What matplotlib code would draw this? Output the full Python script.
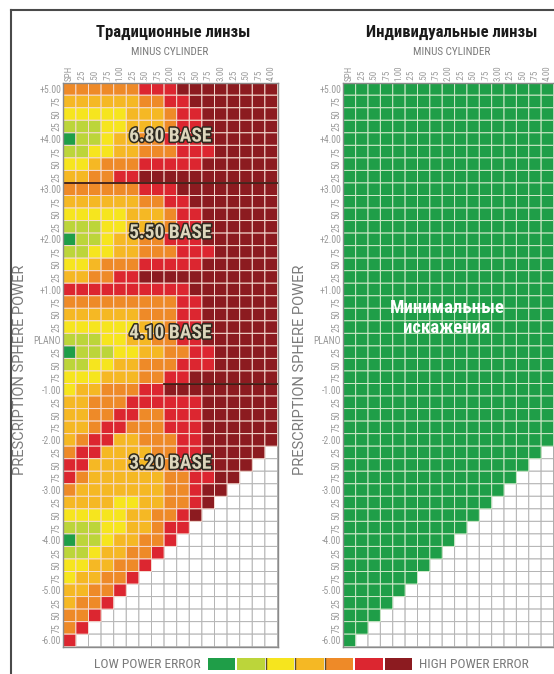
import numpy as np
import matplotlib.pyplot as plt
from matplotlib.colors import ListedColormap
from matplotlib.lines import Line2D
import matplotlib.patheffects as pe

plt.rcParams['font.family'] = ['Roboto Condensed', 'DejaVu Sans']

# error level per cell: 0 = green (low) ... 6 = dark red (high), '.' = no lens
traditional = [
    "44444455566666666",  # +5.00
    "33333344556666666",
    "22222333455666666",
    "11122333455666666",
    "01123344555666666",  # +4.00
    "11223344455566666",
    "22344455555666666",
    "33445566666666666",
    "44444455566666666",  # +3.00
    "33333344556666666",
    "22222333455666666",
    "11122333455666666",
    "01123344555666666",  # +2.00
    "11223344455566666",
    "22344455555666666",
    "33445566666666666",
    "55555555556666666",  # +1.00
    "44444444455666666",
    "33333344455666666",
    "22222233455666666",
    "11122334455666666",  # plano
    "01112233445566666",
    "11223344455566666",
    "22233344556666666",
    "23344455666666666",  # -1.00
    "33444555555666666",
    "33445544555666666",
    "33455444555666666",
    "34553344455666666",  # -2.00
    "4553333445566666.",
    "553333344556666..",
    "54333333445566...",
    "4333333344566....",  # -3.00
    "333322334456.....",
    "22222334456......",
    "1112233455.......",
    "011233445........",  # -4.00
    "11233445.........",
    "2233445..........",
    "233445...........",
    "33445............",  # -5.00
    "3445.............",
    "445..............",
    "45...............",
    "5................",  # -6.00
]
individual_level = 0

sphere_labels = ['+5.00', '75', '50', '25', '+4.00', '75', '50', '25',
                 '+3.00', '75', '50', '25', '+2.00', '75', '50', '25',
                 '+1.00', '75', '50', '25', 'PLANO', '25', '50', '75',
                 '-1.00', '25', '50', '75', '-2.00', '25', '50', '75',
                 '-3.00', '25', '50', '75', '-4.00', '25', '50', '75',
                 '-5.00', '25', '50', '75', '-6.00']
cyl_labels = ['SPH', '.25', '.50', '.75', '1.00', '.25', '.50', '.75', '2.00',
              '.25', '.50', '.75', '3.00', '.25', '.50', '.75', '4.00']

level_colors = ['#1f9e48', '#bcd53a', '#f6e51e', '#f5b824', '#ee8a28', '#dc2630', '#8c1b20']
base_names = ['6.80 BASE', '5.50 BASE', '4.10 BASE', '3.20 BASE']
base_rows = [4.3, 12.0, 20.0, 30.4]

grid = np.array([[np.nan if ch == '.' else float(ch) for ch in row.ljust(17, '.')]
                 for row in traditional])
n_rows, n_cols = grid.shape
custom = np.where(np.isnan(grid), np.nan, individual_level)

W, H = 554, 674
fig = plt.figure(figsize=(W / 100, H / 100), dpi=100)
fig.patch.set_facecolor('white')

gray = '#7a7a7a'
tick_gray = '#9a9a9a'
cmap = ListedColormap(level_colors)


def px(x, y, w, h):
    return [x / W, 1 - (y + h) / H, w / W, h / H]


def draw_panel(left, width, values, edge):
    ax = fig.add_axes(px(left, 82.7, width, 564))
    xe = np.arange(n_cols + 1)
    ye = np.arange(n_rows + 1)
    ax.pcolor(xe, ye, np.zeros_like(values), cmap=ListedColormap(['white']),
              edgecolors='#b4b4b4', linewidth=0.7)
    ax.pcolor(xe, ye, np.ma.masked_invalid(values), cmap=cmap, vmin=-0.5, vmax=6.5,
              edgecolors=edge, linewidth=0.7)
    ax.set_xlim(0, n_cols)
    ax.set_ylim(n_rows, 0)
    ax.xaxis.tick_top()
    ax.set_xticks(np.arange(n_cols) + 0.5)
    ax.set_xticklabels(cyl_labels, rotation=90, fontsize=6.5, color=tick_gray)
    ax.set_yticks(np.arange(n_rows) + 0.5)
    ax.set_yticklabels(sphere_labels, fontsize=7, color=tick_gray)
    for lab in ax.get_yticklabels():
        if '.' not in lab.get_text() and lab.get_text() != 'PLANO':
            lab.set_rotation(90)
            lab.set_va('center')
    ax.tick_params(length=0, pad=1.5)
    for s in ax.spines.values():
        s.set_color('#8a8a8a')
        s.set_linewidth(1)
    return ax


ax1 = draw_panel(63.3, 214.2, grid, '#f6dcd2')
ax2 = draw_panel(343.3, 210.2, custom, '#cfe9c9')

# separators between base curves
ax1.plot([0, n_cols], [8, 8], color='#3b1a12', lw=1.3)
ax1.plot([8, n_cols], [24, 24], color='#3b1a12', lw=1.3)

for name, r in zip(base_names, base_rows):
    ax1.text(8.5, r, name, ha='center', va='center', fontsize=14, fontweight='bold',
             color='#ddd6bc',
             path_effects=[pe.withStroke(linewidth=2.2, foreground='#2e2a20')])

ax2.text(8.4, 18.8, 'Минимальные\nискажения', ha='center', va='center',
         fontsize=13.5, fontweight='bold', color='white', linespacing=1.15)

# titles
fig.text(173 / W, 1 - 32 / H, 'Традиционные линзы', ha='center', va='center',
         fontsize=12, fontweight='bold', color='#1a1a1a')
fig.text(452 / W, 1 - 32 / H, 'Индивидуальные линзы', ha='center', va='center',
         fontsize=12, fontweight='bold', color='#1a1a1a')
for cx in (170, 452):
    fig.text(cx / W, 1 - 52 / H, 'MINUS CYLINDER', ha='center', va='center',
             fontsize=8, color=gray)
for lx in (20, 300):
    fig.text(lx / W, 1 - 370 / H, 'PRESCRIPTION SPHERE POWER', ha='center', va='center',
             rotation=90, fontsize=10.5, color=gray, family=['Roboto', 'DejaVu Sans'])

# legend
lax = fig.add_axes(px(207, 658, 206, 12))
lax.bar(np.arange(len(level_colors)), 1, width=0.93, color=level_colors)
for b in (1.5, 2.5, 3.5):
    lax.axvline(b, color='#5a4a2a', lw=1)
lax.set_xlim(-0.5, len(level_colors) - 0.5)
lax.set_ylim(0, 1)
lax.axis('off')
fig.text(201 / W, 1 - 664 / H, 'LOW POWER ERROR', ha='right', va='center',
         fontsize=9.7, color=gray)
fig.text(419 / W, 1 - 664 / H, 'HIGH POWER ERROR', ha='left', va='center',
         fontsize=9.7, color=gray)

# outer frame
fig.add_artist(Line2D([11 / W, 1], [1 - 10 / H, 1 - 10 / H], color='#4a4a4a', lw=1.5))
fig.add_artist(Line2D([11 / W, 11 / W], [1 - 10 / H, 0], color='#4a4a4a', lw=1.5))

fig.savefig('out.png', dpi=100)
